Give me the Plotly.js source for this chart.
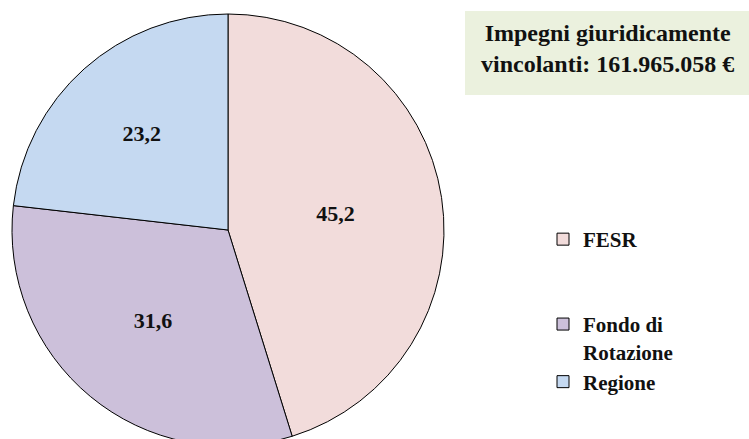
<!DOCTYPE html>
<html><head><meta charset="utf-8">
<script src="https://cdn.plot.ly/plotly-3.0.1.min.js"></script>
<style>html,body{margin:0;padding:0;overflow:hidden;width:749px;height:439px;background:#fff}</style>
</head><body><div id="chart"></div>
<script>
const labels = ["FESR", "Fondo di<br>Rotazione", "Regione"];
const legendLabels = ["FESR<br>\u00a0<br>\u00a0", "Fondo di<br>Rotazione", "Regione"];
const values = [45.2, 31.6, 23.2];
const colors = ["#F2DCDB", "#CCC0DA", "#C5D9F1"];
const titleText = "Impegni giuridicamente<br>vincolanti: 161.965.058 €";

const W = 749, H = 460;
const FONT = "Liberation Serif, DejaVu Serif, serif";

const trace = {
  type: "pie",
  labels: legendLabels,
  values: values,
  sort: false,
  direction: "clockwise",
  rotation: 0,
  marker: {colors: colors, line: {color: "#000", width: 1}},
  textinfo: "value",
  texttemplate: "<b>%{value:.1f}</b>",
  textposition: "inside",
  insidetextorientation: "horizontal",
  textfont: {family: FONT, size: 22, color: "#111"},
  hoverinfo: "label+value",
  domain: {x: [12 / W, 444 / W], y: [14 / H, 446 / H]}
};

const layout = {
  width: W, height: H,
  margin: {l: 0, r: 0, t: 0, b: 0},
  paper_bgcolor: "#fff",
  separators: ",.",
  showlegend: true,
  legend: {
    x: 543 / W, xanchor: "left",
    y: 1 - 219 / H, yanchor: "top",
    valign: "top",
    font: {family: FONT, size: 21, color: "#111", weight: "bold"},
    bgcolor: "rgba(0,0,0,0)"
  },
  shapes: [{
    type: "rect", xref: "paper", yref: "paper",
    x0: 465 / W, x1: 1, y0: 1 - 95 / H, y1: 1 - 11 / H,
    fillcolor: "#EBF1DE", line: {width: 0}, layer: "below"
  }],
  annotations: [{
    xref: "paper", yref: "paper",
    x: 607 / W, y: 1 - 49 / H, xanchor: "center", yanchor: "middle",
    text: "<b>" + titleText + "</b>", showarrow: false, align: "center",
    font: {family: FONT, size: 24, color: "#111"}
  }]
};

Plotly.newPlot("chart", [trace], layout, {displayModeBar: false, staticPlot: true});
</script></body></html>
